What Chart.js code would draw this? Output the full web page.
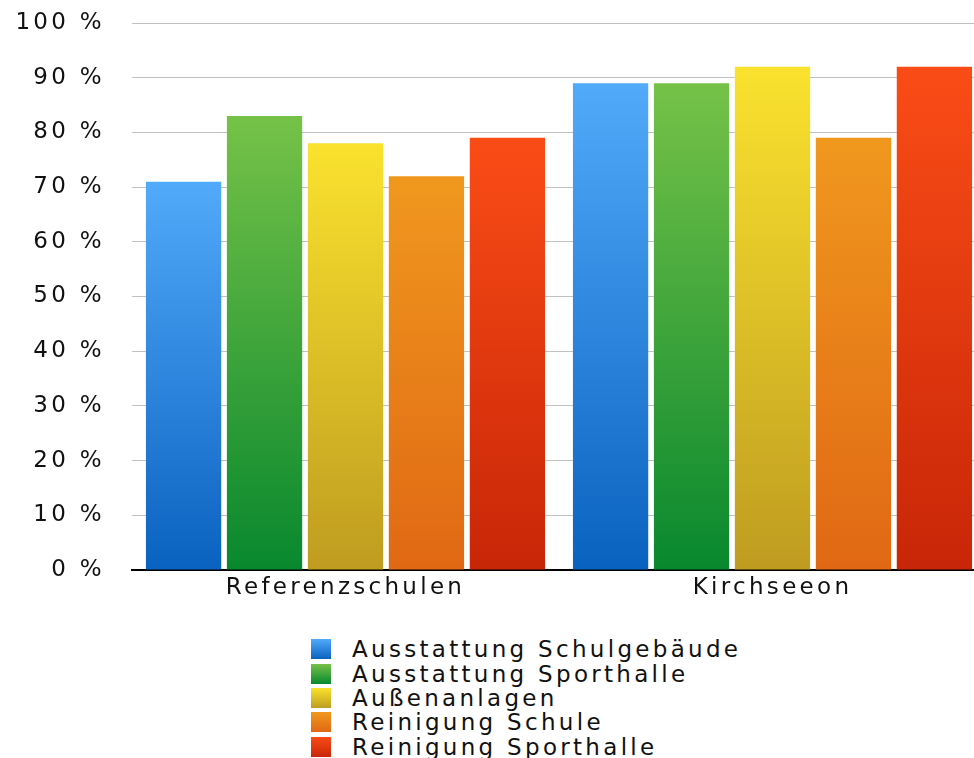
<!DOCTYPE html>
<html lang="de">
<head>
    <meta charset="UTF-8">
    <title>Zufriedenheit Referenzschulen / Kirchseeon</title>
    <style>
        body {
            margin: 0;
            width: 974px;
            height: 758px;
            overflow: hidden;
            background: #fff;
            font-family: "DejaVu Sans", sans-serif;
            position: relative;
        }
        .chart-box {
            position: absolute;
            left: 0;
            top: 0;
            width: 986px;
            height: 612px;
        }
        #legend {
            position: absolute;
            left: 311px;
            top: 637px;
            margin: 0;
            padding: 0;
            list-style: none;
        }
        #legend li {
            display: flex;
            align-items: center;
            height: 24.4px;
            font-size: 23px;
            letter-spacing: 3.3px;
            color: #111;
            white-space: nowrap;
        }
        #legend .swatch {
            display: inline-block;
            width: 20px;
            height: 20px;
            margin-right: 21px;
        }
    </style>
</head>
<body>
    <div class="chart-box"><canvas id="chart"></canvas></div>
    <ul id="legend"></ul>

    <script src="https://cdn.jsdelivr.net/npm/chart.js"></script>
    <script>
        const categories = ['Referenzschulen', 'Kirchseeon'];
        const seriesNames = ['Ausstattung Schulgebäude', 'Ausstattung Sporthalle', 'Außenanlagen', 'Reinigung Schule', 'Reinigung Sporthalle'];
        const schulgebaeude = [71, 89];
        const sporthalle = [83, 89];
        const aussenanlagen = [78, 92];
        const reinigungSchule = [72, 79];
        const reinigungSporthalle = [79, 92];
        const yTicks = [0, 10, 20, 30, 40, 50, 60, 70, 80, 90, 100];

        // light top / dark bottom of each bar gradient
        const topColors = ['#52aafa', '#76c248', '#fae22e', '#f0981e', '#fa4c16'];
        const bottomColors = ['#0a62c0', '#08882e', '#bf9c20', '#e06814', '#c82608'];

        const seriesValues = [schulgebaeude, sporthalle, aussenanlagen, reinigungSchule, reinigungSporthalle];

        function barGradient(i) {
            return function (ctx) {
                const chart = ctx.chart;
                if (!chart.chartArea || ctx.type !== 'data') return topColors[i];
                const y = chart.scales.y;
                const top = y.getPixelForValue(ctx.raw);
                const bottom = y.getPixelForValue(0);
                const g = chart.ctx.createLinearGradient(0, top, 0, bottom);
                g.addColorStop(0, topColors[i]);
                g.addColorStop(1, bottomColors[i]);
                return g;
            };
        }

        // the original font is a wide one, spread the letters a bit
        const spacing = {
            id: 'spacing',
            beforeUpdate(chart) { chart.ctx.letterSpacing = '3.3px'; },
            beforeDraw(chart) { chart.ctx.letterSpacing = '3.3px'; }
        };

        const font = { family: '"DejaVu Sans", sans-serif', size: 23 };

        const chart = new Chart(document.getElementById('chart'), {
            type: 'bar',
            data: {
                labels: categories,
                datasets: seriesValues.map((vals, i) => ({
                    label: seriesNames[i],
                    data: vals,
                    backgroundColor: barGradient(i),
                    borderWidth: 0,
                    categoryPercentage: 0.948,
                    barPercentage: 0.93
                }))
            },
            options: {
                responsive: true,
                maintainAspectRatio: false,
                animation: false,
                layout: { padding: 0 },
                plugins: {
                    legend: { display: false },
                    tooltip: { enabled: false }
                },
                scales: {
                    x: {
                        grid: { display: false, drawTicks: false },
                        border: { display: true, color: '#000', width: 2 },
                        ticks: { color: '#111', font: font, padding: 4 },
                        afterFit(s) { s.height = 42; }
                    },
                    y: {
                        min: 0,
                        max: 100,
                        afterBuildTicks(s) { s.ticks = yTicks.map(v => ({ value: v })); },
                        grid: { color: '#c2c2c2', lineWidth: 1, drawTicks: false },
                        border: { display: false },
                        ticks: {
                            color: '#111',
                            font: font,
                            padding: 27,
                            callback: v => v + ' %'
                        },
                        afterFit(s) {
                            s.width = 132;
                            s.paddingTop = 23;
                            s.paddingBottom = 14;
                        }
                    }
                }
            },
            plugins: [spacing]
        });

        // legend as a plain column under the chart
        const legend = document.getElementById('legend');
        seriesNames.forEach((name, i) => {
            const li = document.createElement('li');
            const sw = document.createElement('span');
            sw.className = 'swatch';
            sw.style.background = `linear-gradient(${topColors[i]}, ${bottomColors[i]})`;
            li.appendChild(sw);
            li.appendChild(document.createTextNode(name));
            legend.appendChild(li);
        });
    </script>
</body>
</html>
